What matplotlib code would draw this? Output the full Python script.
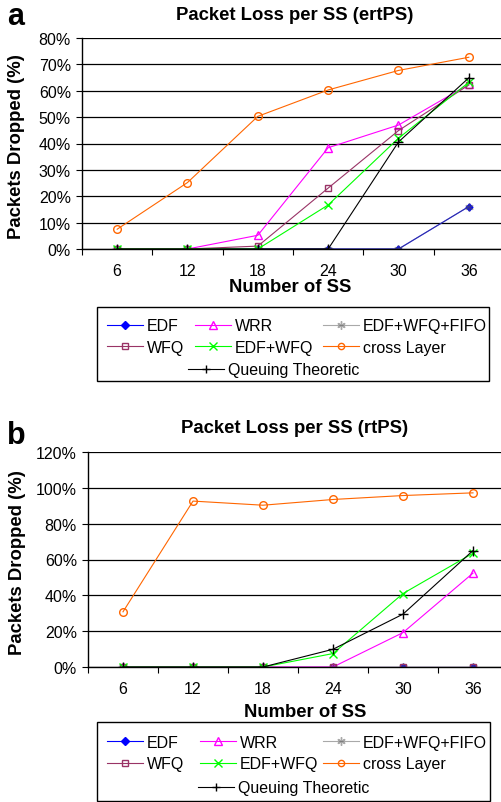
import numpy as np
import matplotlib
matplotlib.use("Agg")
import matplotlib.pyplot as plt
from matplotlib.patches import Rectangle

plt.rcParams['font.family'] = ['Liberation Sans', 'DejaVu Sans']

num_ss = [6, 12, 18, 24, 30, 36]
series_names = ["EDF", "WRR", "EDF+WFQ+FIFO", "WFQ", "EDF+WFQ", "cross Layer", "Queuing Theoretic"]

# panel a: ertPS
ertps_edf = [0, 0, 0, 0, 0, 16.1]
ertps_wrr = [0, 0, 5.2, 38.4, 47.0, 62.4]
ertps_fifo = [0, 0, 0, 0, 0, 16.1]
ertps_wfq = [0, 0, 1.1, 23.1, 44.9, 62.2]
ertps_edfwfq = [0, 0, 0, 16.7, 42.0, 63.2]
ertps_cross = [7.5, 25.2, 50.3, 60.3, 67.7, 72.7]
ertps_qt = [0, 0, 0, 0, 40.6, 64.9]

# panel b: rtPS
rtps_edf = [0, 0, 0, 0, 0, 0]
rtps_wrr = [0, 0, 0, 0, 19.2, 52.4]
rtps_fifo = [0, 0, 0, 0, 0, 0]
rtps_wfq = [0, 0, 0, 0, 0, 0]
rtps_edfwfq = [0, 0, 0, 7.5, 41.0, 63.5]
rtps_cross = [30.8, 92.6, 90.3, 93.5, 95.7, 97.2]
rtps_qt = [0, 0, 0, 9.9, 29.5, 65.0]

styles = [
    dict(color="#0000FF", marker="D", ms=3.5, mfc="#0000FF"),
    dict(color="#FF00FF", marker="^", ms=6, mfc="none"),
    dict(color="#555555", marker=(6, 2, 0), ms=6, alpha=0.5),
    dict(color="#993366", marker="s", ms=5, mfc="none"),
    dict(color="#00FF00", marker="x", ms=6, mew=1.0),
    dict(color="#FF6600", marker="o", ms=5.5, mfc="none"),
    dict(color="#000000", marker="+", ms=7, mew=1.0),
]
legend_ms = [4, 6, 6, 5, 6, 4.5, 6]

W, H = 502, 803
fig = plt.figure(figsize=(W / 100, H / 100), dpi=100)


def fx(px):
    return px / W


def fy(py):
    return 1 - py / H


def draw_panel(rect, data, ymax, ystep, title, letter, title_y, letter_y, xlab_x, xlab_y,
               ylab_x, ylab_y, frame, col_x, rows_y, qt_xy):
    ax = fig.add_axes(rect)
    x = np.arange(len(num_ss))
    lines = []
    for name, vals, st in zip(series_names, data, styles):
        ln, = ax.plot(x, vals, lw=0.8, label=name, **st)
        lines.append(ln)
    ax.set_xlim(-0.5, len(num_ss) - 0.5)
    ax.set_ylim(0, ymax)
    yt = np.arange(0, ymax + 1, ystep)
    ax.set_yticks(yt)
    ax.set_yticklabels([f"{v:.0f}%" for v in yt], fontsize=11.5)
    ax.set_xticks(x)
    ax.set_xticklabels([str(n) for n in num_ss], fontsize=11.5)
    ax.set_xticks(np.arange(-0.5, len(num_ss)), minor=True)
    ax.tick_params(axis="x", which="major", length=0, pad=10)
    ax.tick_params(axis="x", which="minor", length=4, width=0.8, direction="out")
    ax.tick_params(axis="y", length=4, width=0.8, direction="out", pad=4)
    ax.yaxis.grid(True, color="black", lw=0.9)
    ax.set_axisbelow(True)
    for s in ["top", "right"]:
        ax.spines[s].set_visible(False)
    for s in ["left", "bottom"]:
        ax.spines[s].set_linewidth(1.0)

    fig.text(fx(295), fy(title_y), title, ha="center", va="center",
             fontsize=13.3, fontweight="bold")
    fig.text(fx(16), fy(letter_y), letter, ha="center", va="center",
             fontsize=22, fontweight="bold")
    fig.text(fx(xlab_x), fy(xlab_y), "Number of SS", ha="center", va="center",
             fontsize=13.3, fontweight="bold")
    fig.text(fx(ylab_x), fy(ylab_y), "Packets Dropped (%)", ha="center", va="center",
             rotation=90, fontsize=13.3, fontweight="bold")

    # legend: three columns of two, plus queuing theoretic row, one frame round all
    x0, y0, x1, y1 = frame
    fig.add_artist(Rectangle((fx(x0), fy(y1)), fx(x1) - fx(x0), fy(y0) - fy(y1),
                             transform=fig.transFigure, fill=False, ec="black", lw=1.0))
    cols = [[0, 3], [1, 4], [2, 5]]
    ymid = (rows_y[0] + rows_y[1]) / 2
    groups = [(c, (cx, ymid)) for c, cx in zip(cols, col_x)] + [([6], qt_xy)]
    for idx, (px, py) in groups:
        leg = fig.legend([lines[i] for i in idx], [series_names[i] for i in idx],
                         loc="center left", bbox_to_anchor=(fx(px), fy(py)),
                         fontsize=11.5, frameon=False, handlelength=2.25,
                         handletextpad=0.25, labelspacing=0.4, borderpad=0,
                         borderaxespad=0)
        for h, i in zip(leg.legend_handles, idx):
            h.set_markersize(legend_ms[i])
    return ax


draw_panel([fx(82), fy(250), 422 / W, 211 / H],
           [ertps_edf, ertps_wrr, ertps_fifo, ertps_wfq, ertps_edfwfq, ertps_cross, ertps_qt],
           80, 10, "Packet Loss per SS (ertPS)", "a", 15, 17, 290, 288, 17, 147,
           (97, 308, 489, 382), [107, 195, 323], [325, 350], (188, 371))

draw_panel([fx(88), fy(668), 420 / W, 215 / H],
           [rtps_edf, rtps_wrr, rtps_fifo, rtps_wfq, rtps_edfwfq, rtps_cross, rtps_qt],
           120, 20, "Packet Loss per SS (rtPS)", "b", 429, 436, 305, 713, 18, 563,
           (97, 723, 490, 802), [107, 200, 323], [742, 766], (198, 789))

fig.savefig("out.png", dpi=100)
